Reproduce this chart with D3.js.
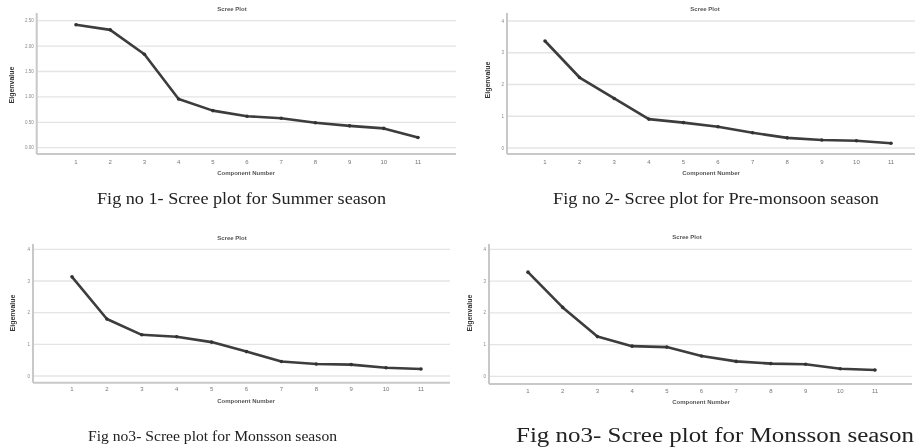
<!DOCTYPE html>
<html>
<head>
<meta charset="utf-8">
<title>Scree plots</title>
<script src="https://d3js.org/d3.v7.min.js"></script>
<style>
  body { margin: 0; background: #fff; }
  svg { display: block; }
</style>
</head>
<body>
<div id="chart"></div>
<script>
// component numbers on the x axis
const components = [1, 2, 3, 4, 5, 6, 7, 8, 9, 10, 11];

// eigenvalues
const summer     = [2.42, 2.32, 1.84, 0.96, 0.73, 0.62, 0.58, 0.49, 0.43, 0.38, 0.20];
const preMonsoon = [3.37, 2.22, 1.56, 0.91, 0.80, 0.67, 0.48, 0.32, 0.25, 0.23, 0.15];
const monsoonA   = [3.13, 1.80, 1.30, 1.24, 1.07, 0.77, 0.46, 0.38, 0.36, 0.26, 0.22];
const monsoonB   = [3.28, 2.17, 1.25, 0.95, 0.92, 0.64, 0.47, 0.40, 0.38, 0.24, 0.20];

// y tick labels
const ticksSummer = [0, 0.5, 1, 1.5, 2, 2.5];
const ticksOther  = [0, 1, 2, 3, 4];

const captions = [
  "Fig no 1- Scree plot for Summer season",
  "Fig no 2- Scree plot for Pre-monsoon season",
  "Fig no3- Scree plot for Monsson season",
  "Fig no3- Scree plot for Monsson season"
];

const W = 918, H = 447;

const svg = d3.select("#chart").append("svg")
  .attr("width", W)
  .attr("height", H);

const defs = svg.append("defs");
defs.append("filter").attr("id", "soft")
  .append("feGaussianBlur").attr("stdDeviation", 0.45);
defs.append("filter").attr("id", "softer")
  .append("feGaussianBlur").attr("stdDeviation", 0.3);

// layout of each panel (pixel frame), data kept separate above
const panels = [
  { values: summer, ticks: ticksSummer, fmt: d3.format(".2f"),
    axisX: 36.7, gridEnd: 456, x1: 76, x11: 418, yTop: 20.7, y0: 147.7, axisY: 154, axisTop: 13,
    titleX: 232, titleY: 11, tickY: 164, xlabX: 246, xlabY: 175, ylabX: 14, ylabY: 85,
    cap: { x: 97, y: 204, size: 17, len: 289 } },
  { values: preMonsoon, ticks: ticksOther, fmt: d3.format("d"),
    axisX: 507, gridEnd: 915, x1: 545, x11: 891, yTop: 21, y0: 148, axisY: 154, axisTop: 13,
    titleX: 705, titleY: 11, tickY: 164, xlabX: 711, xlabY: 175, ylabX: 490, ylabY: 80,
    cap: { x: 553, y: 204, size: 17, len: 326 } },
  { values: monsoonA, ticks: ticksOther, fmt: d3.format("d"),
    axisX: 33, gridEnd: 450, x1: 72, x11: 421, yTop: 249.3, y0: 376, axisY: 382.7, axisTop: 244,
    titleX: 232, titleY: 240, tickY: 391, xlabX: 246, xlabY: 403, ylabX: 15, ylabY: 313,
    cap: { x: 88, y: 441, size: 14, len: 249 } },
  { values: monsoonB, ticks: ticksOther, fmt: d3.format("d"),
    axisX: 489, gridEnd: 912, x1: 528, x11: 875, yTop: 249.3, y0: 376.3, axisY: 384, axisTop: 244,
    titleX: 687, titleY: 239, tickY: 393, xlabX: 701, xlabY: 404, ylabX: 472, ylabY: 313,
    cap: { x: 516, y: 442, size: 20, len: 398 } }
];

panels.forEach((p, i) => {
  const x = d3.scaleLinear()
    .domain([1, 11])
    .range([p.x1, p.x11]);
  const y = d3.scaleLinear()
    .domain([d3.min(p.ticks), d3.max(p.ticks)])
    .range([p.y0, p.yTop]);

  const g = svg.append("g").attr("filter", "url(#soft)");

  // horizontal gridlines
  g.selectAll(".grid")
    .data(p.ticks)
    .enter().append("line")
    .attr("x1", p.axisX)
    .attr("x2", p.gridEnd)
    .attr("y1", d => y(d))
    .attr("y2", d => y(d))
    .style("stroke", "#e4e4e4")
    .style("stroke-width", 1.3);

  // axis lines
  g.append("line")
    .attr("x1", p.axisX).attr("x2", p.axisX)
    .attr("y1", p.axisTop).attr("y2", p.axisY)
    .style("stroke", "#c8c8c8").style("stroke-width", 2);
  g.append("line")
    .attr("x1", p.axisX).attr("x2", p.gridEnd)
    .attr("y1", p.axisY).attr("y2", p.axisY)
    .style("stroke", "#c8c8c8").style("stroke-width", 2);

  // y tick labels
  g.selectAll(".ytick")
    .data(p.ticks)
    .enter().append("text")
    .attr("x", p.axisX - 3)
    .attr("y", d => y(d))
    .attr("dy", "0.35em")
    .attr("text-anchor", "end")
    .style("font-family", "Arial, 'Liberation Sans', sans-serif")
    .style("font-size", "4.5px")
    .style("fill", "#888")
    .text(d => p.fmt(d));

  // x tick labels
  g.selectAll(".xtick")
    .data(components)
    .enter().append("text")
    .attr("x", d => x(d))
    .attr("y", p.tickY)
    .attr("text-anchor", "middle")
    .style("font-family", "Arial, 'Liberation Sans', sans-serif")
    .style("font-size", "6px")
    .style("fill", "#777")
    .text(d => d);

  // scree line
  const line = d3.line()
    .x((d, j) => x(components[j]))
    .y(d => y(d));

  g.append("path")
    .datum(p.values)
    .attr("d", line)
    .style("fill", "none")
    .style("stroke", "#3c3c3c")
    .style("stroke-width", 2.6)
    .style("stroke-linejoin", "round");

  g.selectAll(".pt")
    .data(p.values)
    .enter().append("circle")
    .attr("cx", (d, j) => x(components[j]))
    .attr("cy", d => y(d))
    .attr("r", 1.8)
    .style("fill", "#333");

  // titles
  g.append("text")
    .attr("x", p.titleX).attr("y", p.titleY)
    .attr("text-anchor", "middle")
    .style("font-family", "Arial, 'Liberation Sans', sans-serif")
    .style("font-size", "6px")
    .style("font-weight", "bold")
    .style("fill", "#555")
    .text("Scree Plot");

  g.append("text")
    .attr("x", p.xlabX).attr("y", p.xlabY)
    .attr("text-anchor", "middle")
    .style("font-family", "Arial, 'Liberation Sans', sans-serif")
    .style("font-size", "6px")
    .style("font-weight", "bold")
    .style("fill", "#555")
    .text("Component Number");

  g.append("text")
    .attr("transform", "translate(" + p.ylabX + "," + p.ylabY + ") rotate(-90)")
    .attr("text-anchor", "middle")
    .style("font-family", "Arial, 'Liberation Sans', sans-serif")
    .style("font-size", "7px")
    .style("font-weight", "bold")
    .style("fill", "#333")
    .text("Eigenvalue");

  // caption under the panel
  svg.append("text")
    .attr("x", p.cap.x).attr("y", p.cap.y)
    .attr("textLength", p.cap.len)
    .attr("lengthAdjust", "spacingAndGlyphs")
    .attr("filter", "url(#softer)")
    .style("font-family", "'Liberation Serif', 'Times New Roman', serif")
    .style("font-size", p.cap.size + "px")
    .style("fill", "#222")
    .text(captions[i]);
});
</script>
</body>
</html>
